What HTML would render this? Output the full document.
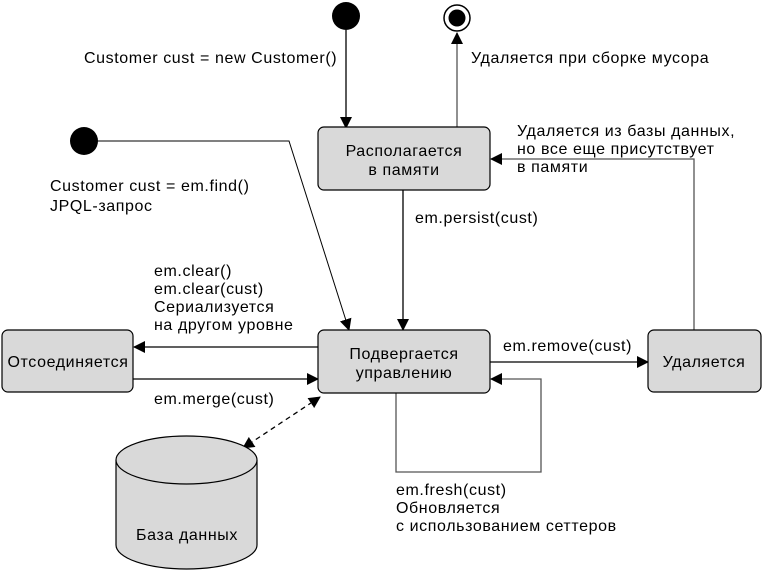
<!DOCTYPE html>
<html><head><meta charset="utf-8"><style>
body{margin:0;background:#fff}
svg text{font-family:"Liberation Sans",Arial,sans-serif;font-size:16px;letter-spacing:0.6px;fill:#000}
</style></head><body>
<svg width="763" height="571" viewBox="0 0 763 571" xmlns="http://www.w3.org/2000/svg">
<defs>
<marker id="a" markerWidth="12" markerHeight="12" refX="11" refY="6" orient="auto" markerUnits="userSpaceOnUse">
<path d="M0,0 L12,6 L0,12 Z" fill="#000"/></marker>
<marker id="s" markerWidth="12" markerHeight="12" refX="1" refY="6" orient="auto" markerUnits="userSpaceOnUse">
<path d="M12,0 L0,6 L12,12 Z" fill="#000"/></marker>
</defs>
<g stroke="#000" stroke-width="1.3" fill="none">
<line x1="346" y1="30" x2="346" y2="128" marker-end="url(#a)"/>
<line x1="457" y1="127" x2="457" y2="33" marker-end="url(#a)" stroke="#555"/>
<polyline points="96,141 289,141 349,330" marker-end="url(#a)" stroke-width="1"/>
<line x1="403" y1="190" x2="403" y2="330" marker-end="url(#a)"/>
<line x1="318" y1="347" x2="134" y2="347" marker-end="url(#a)"/>
<line x1="133" y1="379" x2="318" y2="379" marker-end="url(#a)"/>
<line x1="490" y1="362" x2="648" y2="362" marker-end="url(#a)"/>
<polyline points="694,330 694,159 491,159" marker-end="url(#a)" stroke="#555"/>
<polyline points="396,393 396,472 541,472 541,379 491,379" marker-end="url(#a)" stroke="#555"/>
<line x1="320" y1="397" x2="243" y2="448" stroke-dasharray="5,4" marker-start="url(#s)" marker-end="url(#a)"/>
</g>
<circle cx="346" cy="16" r="14" fill="#000"/>
<circle cx="457" cy="18" r="13" fill="#fff" stroke="#000" stroke-width="1.5"/>
<circle cx="457" cy="18" r="8.5" fill="#000"/>
<circle cx="84" cy="141" r="14" fill="#000"/>
<g fill="#d9d9d9" stroke="#000" stroke-width="1.2">
<rect x="318" y="127" width="172" height="63" rx="6"/>
<rect x="318" y="330" width="172" height="63" rx="6"/>
<rect x="2" y="330" width="131" height="62" rx="6"/>
<rect x="648" y="330" width="113" height="62" rx="6"/>
<path d="M116,460 L116,545 A70.5,24 0 0 0 257,545 L257,460"/>
<ellipse cx="186.5" cy="460" rx="70.5" ry="24"/>
</g>
<g text-anchor="middle">
<text x="404" y="156">Располагается</text>
<text x="404" y="175">в памяти</text>
<text x="404" y="359">Подвергается</text>
<text x="404" y="378">управлению</text>
<text x="68" y="367">Отсоединяется</text>
<text x="704" y="367">Удаляется</text>
<text x="187" y="540">База данных</text>
</g>
<text x="84" y="63">Customer cust = new Customer()</text>
<text x="471" y="63">Удаляется при сборке мусора</text>
<text x="517" y="136">Удаляется из базы данных,</text>
<text x="517" y="154">но все еще присутствует</text>
<text x="517" y="172">в памяти</text>
<text x="50" y="191">Customer cust = em.find()</text>
<text x="50" y="211">JPQL-запрос</text>
<text x="415" y="223">em.persist(cust)</text>
<text x="154" y="276">em.clear()</text>
<text x="154" y="294">em.clear(cust)</text>
<text x="154" y="312">Сериализуется</text>
<text x="154" y="330">на другом уровне</text>
<text x="154" y="404">em.merge(cust)</text>
<text x="503" y="351">em.remove(cust)</text>
<text x="396" y="495">em.fresh(cust)</text>
<text x="396" y="513">Обновляется</text>
<text x="396" y="531">с использованием сеттеров</text>
</svg>
</body></html>
